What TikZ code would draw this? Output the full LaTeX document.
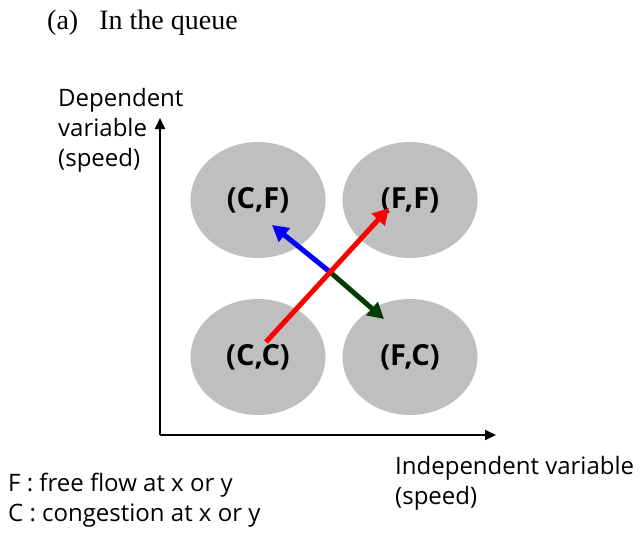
\documentclass[tikz,border=0pt]{standalone}
\usepackage{fontspec}
\setmainfont{Liberation Serif}
\setsansfont{Open Sans}
\usetikzlibrary{arrows.meta,shapes.geometric}
\definecolor{blobgray}{RGB}{191,191,191}
\definecolor{dkgreen}{RGB}{0,60,0}
\tikzset{
  blob/.style={ellipse, fill=blobgray, minimum width=135pt, minimum height=116pt, inner sep=0pt,
    font=\sffamily\bfseries\fontsize{29}{30}\selectfont},
  axis/.style={line width=2pt, -{Triangle[length=11pt,width=10pt]}},
  bigarrow/.style={line width=5pt, -{Triangle[length=16pt,width=17pt]}},
  lbl/.style={font=\sffamily\fontsize{24}{30}\selectfont, inner sep=0pt, align=left},
}
\begin{document}
\begin{tikzpicture}[x=1pt,y=-1pt]
\useasboundingbox (0,0) rectangle (640,557);
\node[font=\rmfamily\fontsize{28}{30}\selectfont, inner sep=0pt, anchor=west] (title) at (47,23) {(a)\hspace{0.5em} In the queue};

\node[blob] (cf) at (258,200) {(C,F)};
\node[blob] (ff) at (410,200) {(F,F)};
\node[blob] (cc) at (258,357) {(C,C)};
\node[blob] (fc) at (410,357) {(F,C)};

\coordinate (o) at (160,435);
\coordinate (ytip) at (160,118);
\coordinate (xtip) at (496,435);
\draw[axis] (o) -- (ytip);
\draw[axis] (o) -- (xtip);

\coordinate (rs) at (266,342);
\coordinate (re) at (389,208);
\coordinate (xc) at (330,272);
\coordinate (bt) at (272,225);
\coordinate (gt) at (384,319);
\draw[bigarrow, blue] (xc) -- (bt);
\draw[bigarrow, dkgreen] (xc) -- (gt);
\draw[bigarrow, red] (rs) -- (re);

\node[lbl, anchor=north west] (ylab) at (58,88) {Dependent\\variable\\(speed)};
\node[lbl, anchor=north west] (xlab) at (395,456) {Independent variable\\(speed)};
\node[lbl, anchor=north west] (legend) at (8,473) {F : free flow at x or y\\C : congestion at x or y};
\end{tikzpicture}
\end{document}
